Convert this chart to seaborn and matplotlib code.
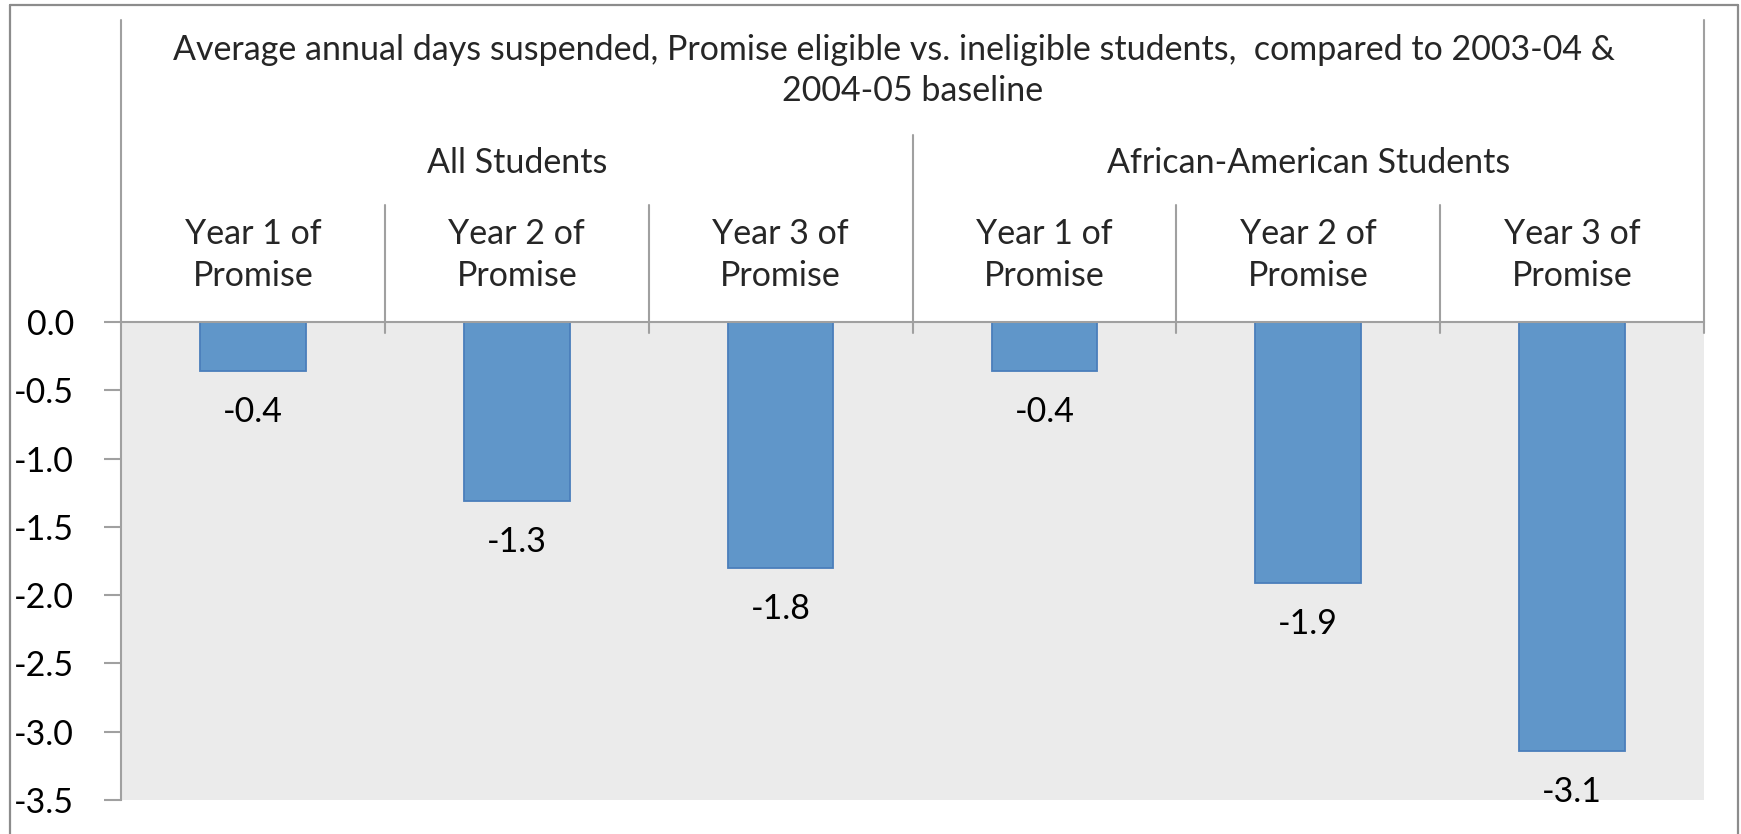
import matplotlib
matplotlib.use("Agg")
import matplotlib.pyplot as plt
import seaborn as sns
import pandas as pd
from matplotlib.lines import Line2D
from matplotlib.transforms import blended_transform_factory

# ---- data ----
title_lines = ["Average annual days suspended, Promise eligible vs. ineligible students,  compared to 2003-04 &",
               "2004-05 baseline"]
groups = ["All Students", "African-American Students"]
year_line1 = ["Year 1 of", "Year 2 of", "Year 3 of"]
year_line2 = ["Promise", "Promise", "Promise"]
values = [-0.36, -1.31, -1.80, -0.36, -1.91, -3.14]
value_labels = ["-0.4", "-1.3", "-1.8", "-0.4", "-1.9", "-3.1"]
yticks = [0.0, -0.5, -1.0, -1.5, -2.0, -2.5, -3.0, -3.5]

cats = [f"{g} | {y}" for g in groups for y in year_line1]
df = pd.DataFrame({"cat": cats, "value": values})

sns.set_theme(style="white")
plt.rcParams['font.family'] = ['Lato', 'DejaVu Sans']

W, H = 1741, 834
FS = 24.5
GRAY = "#A0A0A0"
fig = plt.figure(figsize=(W / 100, H / 100), dpi=100)
fig.patch.set_facecolor("white")

top_px, bot_px, left_px, right_px = 322, 800, 121, 1704
ax = fig.add_axes([left_px / W, 1 - bot_px / H, (right_px - left_px) / W, (bot_px - top_px) / H])

sns.barplot(data=df, x="cat", y="value", order=cats, color="#6096C9", saturation=1,
            width=0.4, edgecolor="#4A7EBB", linewidth=1.3, ax=ax)

ax.set_facecolor("#EBEBEB")
ax.set_xlim(-0.5, len(cats) - 0.5)
ax.set_ylim(-3.5, 0)
ax.set_yticks(yticks)
ax.set_yticklabels([f"{t:.1f}" for t in yticks])
ax.set_xticks([])
ax.set_xlabel("")
ax.set_ylabel("")
ax.tick_params(axis='y', left=True, length=12, width=1.5, color=GRAY, pad=22, labelsize=FS, labelcolor="black")
for s in ["bottom", "right"]:
    ax.spines[s].set_visible(False)
for s in ["left", "top"]:
    ax.spines[s].set_visible(True)
    ax.spines[s].set_color(GRAY)
    ax.spines[s].set_linewidth(1.5)

# value labels
for i, (v, lab) in enumerate(zip(values, value_labels)):
    ax.annotate(lab, xy=(i, v), xytext=(0, -41 * 0.72), textcoords="offset points",
                ha="center", va="center", fontsize=FS, color="black")

# header
tr = blended_transform_factory(ax.transData, ax.transAxes)
def ay(py):
    return (bot_px - py) / (bot_px - top_px)

def vline(x, y0, y1):
    ax.add_line(Line2D([x, x], [ay(y0), ay(y1)], transform=tr, color=GRAY, lw=1.5, clip_on=False))

n = len(cats)
vline(-0.5, 20, 322)
vline(n - 0.5, 20, 333)
vline(2.5, 135, 333)
for xb in [0.5, 1.5, 3.5, 4.5]:
    vline(xb, 205, 333)

mid = (n - 1) / 2
ax.text(mid - 0.07, ay(50), title_lines[0], transform=tr, ha="center", va="center", fontsize=FS)
ax.text(mid, ay(91), title_lines[1], transform=tr, ha="center", va="center", fontsize=FS)
for gi, g in enumerate(groups):
    ax.text(gi * 3 + 1, ay(163), g, transform=tr, ha="center", va="center", fontsize=FS)
for i in range(n):
    ax.text(i, ay(234), year_line1[i % 3], transform=tr, ha="center", va="center", fontsize=FS)
    ax.text(i, ay(276), year_line2[i % 3], transform=tr, ha="center", va="center", fontsize=FS)

# outer chart border
bc = "#8C8C8C"
for xs, ys in [([10, 10], [5, H + 5]), ([10, 1738], [5, 5]), ([1738, 1738], [5, H + 5])]:
    fig.add_artist(Line2D([x / W for x in xs], [1 - y / H for y in ys], transform=fig.transFigure,
                          color=bc, lw=1.6))

fig.savefig("out.png", dpi=100)
